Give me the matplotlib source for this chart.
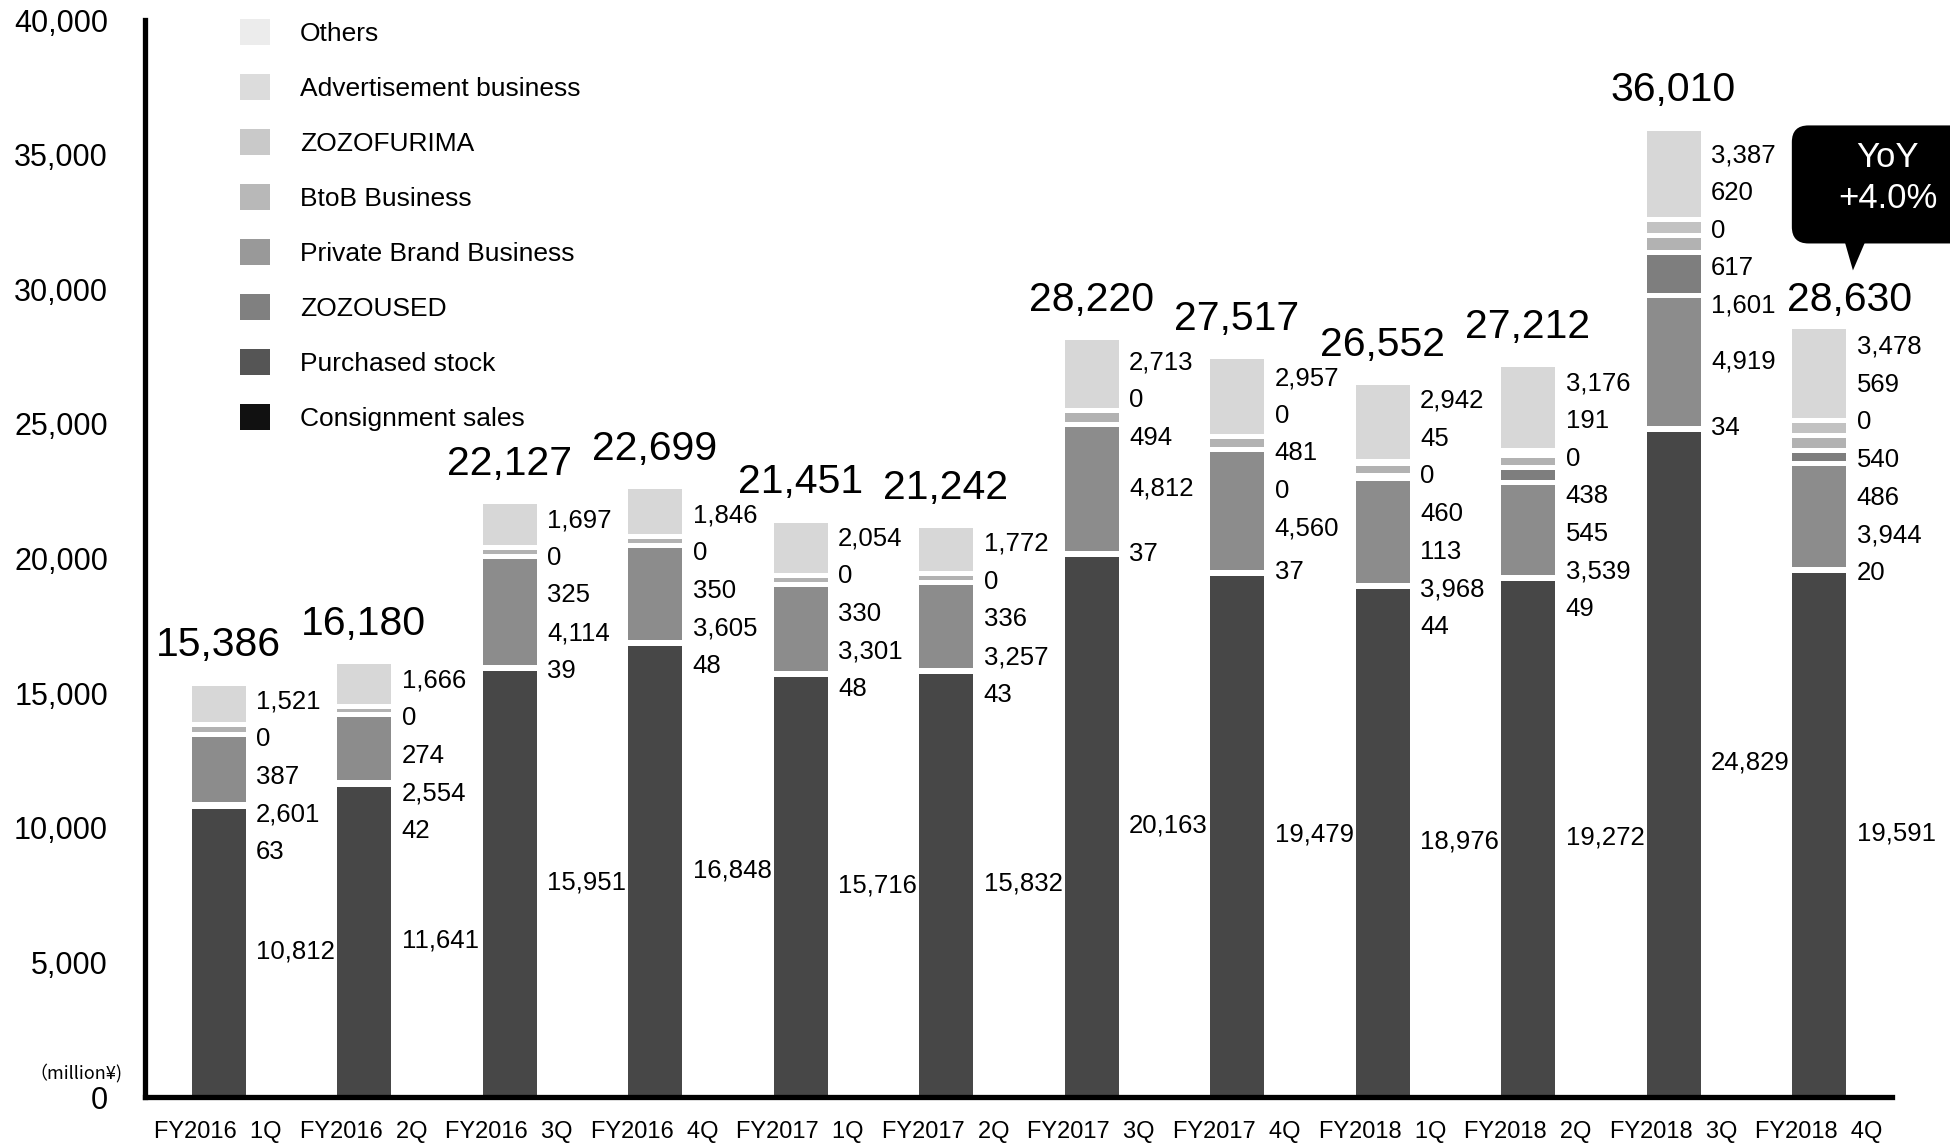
import matplotlib
matplotlib.use("Agg")
import matplotlib.pyplot as plt
import numpy as np
from matplotlib.patches import Patch, FancyBboxPatch, Polygon
from matplotlib.transforms import Affine2D, ScaledTranslation

plt.rcParams['font.family'] = ['Liberation Sans', 'Noto Sans CJK JP', 'DejaVu Sans']

quarters = ["FY2016  1Q", "FY2016  2Q", "FY2016  3Q", "FY2016  4Q",
            "FY2017  1Q", "FY2017  2Q", "FY2017  3Q", "FY2017  4Q",
            "FY2018  1Q", "FY2018  2Q", "FY2018  3Q", "FY2018  4Q"]
totals = [15386, 16180, 22127, 22699, 21451, 21242, 28220, 27517, 26552, 27212, 36010, 28630]

# None = segment not reported in that quarter
consignment = [10812, 11641, 15951, 16848, 15716, 15832, 20163, 19479, 18976, 19272, 24829, 19591]
purchased = [63, 42, 39, 48, 48, 43, 37, 37, 44, 49, 34, 20]
zozoused = [2601, 2554, 4114, 3605, 3301, 3257, 4812, 4560, 3968, 3539, 4919, 3944]
private_brand = [None, None, None, None, None, None, None, 0, 113, 545, 1601, 486]
btob = [387, 274, 325, 350, 330, 336, 494, 481, 460, 438, 617, 540]
zozofurima = [0, 0, 0, 0, 0, 0, 0, 0, 0, 0, 0, 0]
advertisement = [None, None, None, None, None, None, None, None, 45, 191, 620, 569]
others = [1521, 1666, 1697, 1846, 2054, 1772, 2713, 2957, 2942, 3176, 3387, 3478]

yoy_text = "YoY\n+4.0%"

# bottom -> top
series = [
    ("Consignment sales", consignment, "#474747", "#111111"),
    ("Purchased stock", purchased, "#474747", "#555555"),
    ("ZOZOUSED", zozoused, "#8c8c8c", "#808080"),
    ("Private Brand Business", private_brand, "#7e7e7e", "#999999"),
    ("BtoB Business", btob, "#b2b2b2", "#b8b8b8"),
    ("ZOZOFURIMA", zozofurima, "#c8c8c8", "#c9c9c9"),
    ("Advertisement business", advertisement, "#c2c2c2", "#dcdcdc"),
    ("Others", others, "#d7d7d7", "#ececec"),
]


def spread(targets, gap, ceiling):
    """Push label positions apart so neighbours keep at least `gap`."""
    order = sorted(range(len(targets)), key=lambda i: -targets[i])
    groups = [[i] for i in order]

    def layout(g, limit):
        top = np.mean([targets[i] for i in g]) + (len(g) - 1) * gap / 2
        if limit is not None:
            top = min(top, limit)
        return [top - k * gap for k in range(len(g))]

    while True:
        pos = [layout(g, ceiling if n == 0 else None) for n, g in enumerate(groups)]
        merged = False
        for n in range(len(groups) - 1):
            if pos[n][-1] - pos[n + 1][0] < gap:
                groups[n] = groups[n] + groups.pop(n + 1)
                merged = True
                break
        if not merged:
            break
    out = {}
    for g, p in zip(groups, pos):
        for i, y in zip(g, p):
            out[i] = y
    return out


fig = plt.figure(figsize=(19.5, 11.43), dpi=100)
ax = fig.add_axes([0.0746, 0.0402, 0.8954, 0.9423])

x = np.arange(len(quarters))
width = 0.405
bottom = np.zeros(len(quarters))
centers = [[] for _ in quarters]

for name, vals, col, _ in series:
    for i, v in enumerate(vals):
        if v is None:
            continue
        ax.bar(x[i], v, width, bottom=bottom[i], color=col,
               edgecolor="white", linewidth=3.6, zorder=2)
        centers[i].append((bottom[i] + v / 2, v))
        bottom[i] += v

ax.set_xlim(-0.5, 11.5)
ax.set_ylim(0, 40000)

# segment values to the right of each bar
for i in range(len(quarters)):
    ceiling = totals[i] - 700
    # keep clear of the next bar's total when both sit at a similar height
    if i + 1 < len(totals) and abs(totals[i] - totals[i + 1]) < 2000:
        ceiling = min(ceiling, totals[i + 1] + 150)
    ys = spread([c for c, _ in centers[i]], 1400, ceiling)
    for k, (_, v) in enumerate(centers[i]):
        ax.annotate(f"{v:,}", xy=(x[i] + width / 2, ys[k]), xytext=(6, 0),
                    textcoords="offset points", ha="left", va="center",
                    fontsize=18.5, color="black")

# totals on top; the last one is nudged aside for the callout
for i, t in enumerate(totals):
    off = (22, 11) if i == len(totals) - 1 else (0, 19)
    ax.annotate(f"{t:,}", xy=(x[i], bottom[i]), xytext=off,
                textcoords="offset points", ha="center", va="baseline",
                fontsize=29.5, color="black")

ax.set_xticks(x)
ax.set_xticklabels(quarters, fontsize=17)
ax.set_yticks(np.arange(0, 40001, 5000))
ax.set_yticklabels([f"{v:,}" for v in range(0, 40001, 5000)], fontsize=22)
ax.tick_params(axis="y", length=0, pad=27)
ax.tick_params(axis="x", length=0, pad=17)

for s in ["top", "right"]:
    ax.spines[s].set_visible(False)
for s in ["left", "bottom"]:
    ax.spines[s].set_linewidth(3.8)
    ax.spines[s].set_color("black")
    ax.spines[s].set_zorder(3)

ax.text(-0.013, 900, "（million¥)", transform=ax.get_yaxis_transform(),
        ha="right", va="center", fontsize=13,
        family=["Noto Sans CJK JP", "DejaVu Sans"])

handles = [Patch(facecolor=lc, edgecolor="none", label=name)
           for name, _, _, lc in series[::-1]]
fig.legend(handles=handles, loc="upper left", bbox_to_anchor=(0.1231, 0.983),
           frameon=False, fontsize=19, handlelength=1.14, handleheight=1.14,
           labelspacing=1.06, handletextpad=1.14, borderpad=0, borderaxespad=0)

# YoY callout above the last bar
tip = (11.235, 30700)
trans = Affine2D().scale(fig.dpi / 72) + ScaledTranslation(tip[0], tip[1], ax.transData)
box = FancyBboxPatch((-44, 19.4), 200, 85, boxstyle="round,pad=0,rounding_size=12",
                     facecolor="black", edgecolor="none", transform=trans,
                     clip_on=False, zorder=5)
ax.add_patch(box)
ax.add_patch(Polygon([(-6, 21), (9, 21), (0, 0)], closed=True, facecolor="black",
                     edgecolor="none", transform=trans, clip_on=False, zorder=5))
line1, line2 = yoy_text.split("\n")
ax.annotate(line1, xy=tip, xytext=(25, 81), textcoords="offset points",
            ha="center", va="center", fontsize=25, color="white",
            annotation_clip=False, zorder=6)
ax.annotate(line2, xy=tip, xytext=(25, 52), textcoords="offset points",
            ha="center", va="center", fontsize=25, color="white",
            annotation_clip=False, zorder=6)

fig.savefig("out.png", dpi=100)
plt.close(fig)
